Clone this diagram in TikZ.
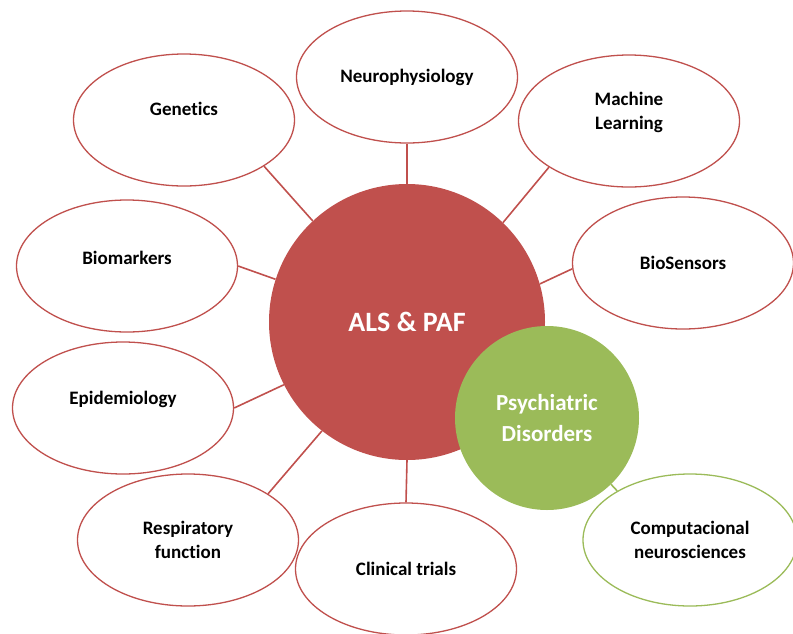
\documentclass[tikz,border=0pt]{standalone}
\usepackage{fontspec}
\setmainfont{Carlito}[Ligatures=NoCommon]
\usetikzlibrary{shapes.geometric}
\definecolor{alsred}{HTML}{C0504D}
\definecolor{psygreen}{HTML}{9BBB59}

\begin{document}
\begin{tikzpicture}[x=1pt, y=-1pt,
	topic/.style={ellipse, draw=alsred, line width=1.3pt, fill=white, minimum width=221pt, minimum height=132pt, align=center, font=\bfseries\fontsize{19}{24}\selectfont},
	hub/.style={circle, fill=alsred, text=white, minimum size=276pt, align=center, font=\bfseries\fontsize{28}{34}\selectfont},
	link/.style={draw=alsred, line width=1.6pt},
	lifted/.style={text depth=#1}]
			\useasboundingbox (0,0) rectangle (793,633);
			
			% Central topics
			\node[hub] (als) at (407,322) {ALS \& PAF};
			\node[hub, fill=psygreen, minimum size=184pt, font=\bfseries\fontsize{23}{31}\selectfont] (psy) at (547,418) {Psychiatric\\Disorders};
			
			% Surrounding fields
			\node[topic] (neu) at (407,77) {Neurophysiology};
			\node[topic, lifted=22pt] (gen) at (184,120) {Genetics};
			\node[topic, lifted=20pt] (ml) at (629,121) {Machine\\Learning};
			\node[topic, lifted=16pt] (bio) at (127,266) {Biomarkers};
			\node[topic] (sen) at (683,263) {BioSensors};
			\node[topic, lifted=20pt] (epi) at (123,408) {Epidemiology};
			\node[topic] (resp) at (188,540) {Respiratory\\function};
			\node[topic] (cli) at (406,569) {Clinical trials};
			\node[topic, draw=psygreen, minimum width=214pt] (comp) at (690,540) {Computacional\\neurosciences};
			
			% Links to ALS & PAF
			\draw[link] (als.90) -- (neu.south);
			\draw[link] (als.133.5) -- (gen.-30.7);
			\draw[link] (als.46.2) -- (ml.210.7);
			\draw[link] (als.162.7) -- (bio.east);
			\draw[link] (als.16.5) -- (sen.183.6);
			\draw[link] (als.207.7) -- (epi.east);
			\draw[link] (als.232.3) -- (resp.30.7);
			\draw[link] (als.270) -- (cli.north);
			
			% Link to Psychiatric Disorders
			\draw[link, draw=psygreen] (psy.-46.4) -- (comp.146.9);
		\end{tikzpicture}
\end{document}
